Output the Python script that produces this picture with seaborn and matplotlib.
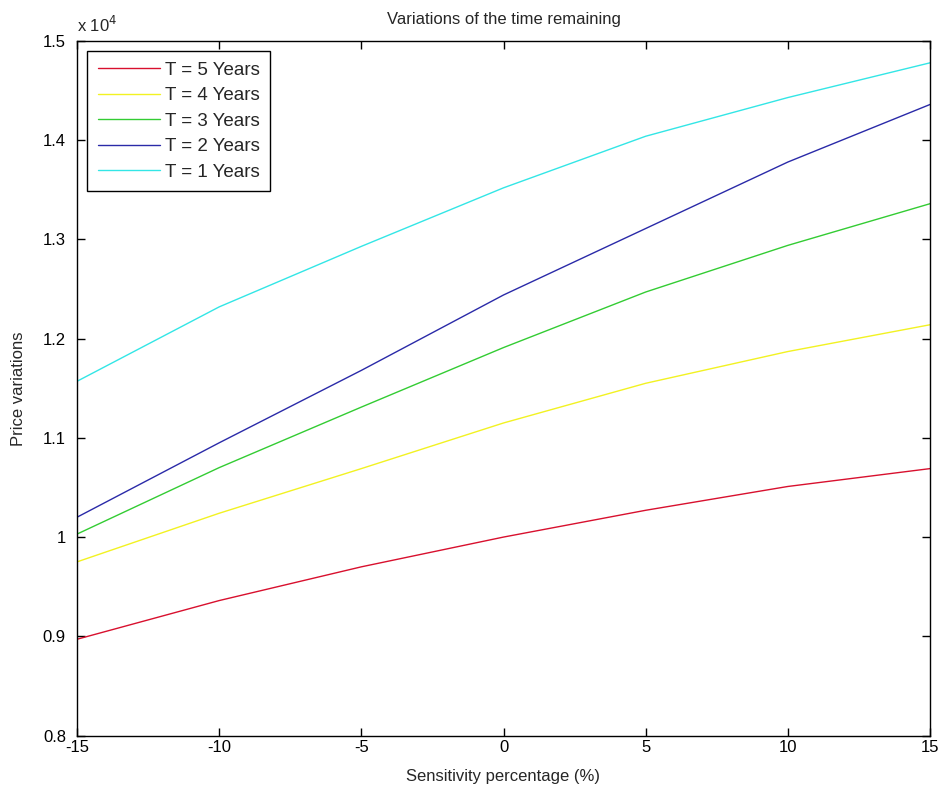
import matplotlib
matplotlib.use("Agg")
import matplotlib.pyplot as plt
import matplotlib.ticker as mticker
import numpy as np
import pandas as pd
import seaborn as sns

# ---- data ----
sensitivity = [-15, -10, -5, 0, 5, 10, 15]
price_t5 = [8970, 9360, 9700, 10000, 10270, 10510, 10690]
price_t4 = [9750, 10240, 10690, 11150, 11550, 11870, 12140]
price_t3 = [10030, 10700, 11310, 11910, 12470, 12940, 13360]
price_t2 = [10200, 10950, 11680, 12440, 13110, 13780, 14360]
price_t1 = [11570, 12320, 12930, 13520, 14040, 14430, 14780]
series_labels = ["T = 5 Years", "T = 4 Years", "T = 3 Years", "T = 2 Years", "T = 1 Years"]
y_ticks = [8000, 9000, 10000, 11000, 12000, 13000, 14000, 15000]
x_ticks = [-15, -10, -5, 0, 5, 10, 15]

series_values = [price_t5, price_t4, price_t3, price_t2, price_t1]
df = pd.concat(
    [pd.DataFrame({"Sensitivity": sensitivity, "Price": vals, "Series": lab})
     for lab, vals in zip(series_labels, series_values)],
    ignore_index=True,
)

sns.set_style("ticks")
plt.rcParams["font.family"] = ["Liberation Sans", "DejaVu Sans"]
plt.rcParams["axes.unicode_minus"] = False

colors = ["#d8102e", "#f2f222", "#33cc33", "#2a2aa8", "#33e6e6"]
palette = dict(zip(series_labels, colors))

fig = plt.figure(figsize=(9.43, 7.95), dpi=100)
ax = fig.add_axes([77 / 943, 1 - 735.5 / 795, (930 - 77) / 943, (735.5 - 41) / 795])

sns.lineplot(data=df, x="Sensitivity", y="Price", hue="Series", palette=palette,
             hue_order=series_labels, linewidth=1.0, ax=ax, legend=True)

ax.set_xlim(-15, 15)
ax.set_ylim(8000, 15000)
ax.set_xticks(x_ticks)
ax.set_yticks(y_ticks)
ax.yaxis.set_major_formatter(mticker.FuncFormatter(lambda v, p: f"{v / 1e4:g}"))
ax.tick_params(direction="in", top=True, right=True, length=6, width=1,
               labelsize=12, colors="black", pad=8)
ax.tick_params(axis="x", pad=3)
for s in ax.spines.values():
    s.set_visible(True)
    s.set_linewidth(1.0)
    s.set_color("black")

ax.set_title("Variations of the time remaining", fontsize=12, pad=12)
ax.set_xlabel("Sensitivity percentage (%)", fontsize=12, labelpad=10)
ax.set_ylabel("Price variations", fontsize=12, labelpad=12)
ax.text(0, 1.008, r"x 10$^{4}$", transform=ax.transAxes, ha="left", va="bottom", fontsize=12)

leg = ax.legend(loc="upper left", bbox_to_anchor=(0.0, 1.0), borderaxespad=0.55,
                fontsize=13.5, frameon=True, fancybox=False, framealpha=1,
                edgecolor="black", handlelength=3.3, handletextpad=0.3,
                labelspacing=0.45, borderpad=0.55, title=None)
leg.get_frame().set_linewidth(1.0)

fig.savefig("out.png", dpi=100, facecolor="white")
